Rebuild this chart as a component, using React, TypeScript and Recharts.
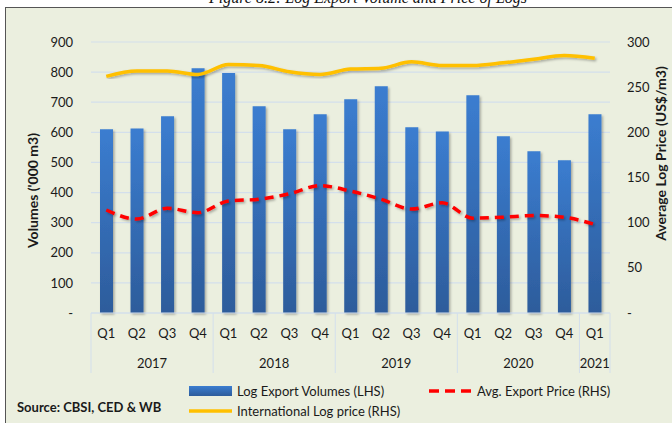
import React from 'react';
import { ComposedChart, Bar, Line, XAxis, YAxis, CartesianGrid } from 'recharts';

const quarters = ['Q1', 'Q2', 'Q3', 'Q4', 'Q1', 'Q2', 'Q3', 'Q4', 'Q1', 'Q2', 'Q3', 'Q4', 'Q1', 'Q2', 'Q3', 'Q4', 'Q1'];
const years = ['2017', '2017', '2017', '2017', '2018', '2018', '2018', '2018', '2019', '2019', '2019', '2019', '2020', '2020', '2020', '2020', '2021'];
const volumes = [610, 613, 653, 813, 797, 687, 610, 660, 710, 753, 617, 603, 723, 587, 537, 507, 660];
const avgExportPrice = [114, 104, 116, 111, 124, 126, 132, 141, 135, 126, 115, 122, 105, 106, 108, 106, 98];
const intlLogPrice = [262, 268, 268, 264, 275, 274, 267, 264, 270, 271, 278, 274, 274, 277, 281, 285, 282];
const leftTicks = [0, 100, 200, 300, 400, 500, 600, 700, 800, 900];
const rightTicks = [0, 50, 100, 150, 200, 250, 300];

const data = quarters.map((q, i) => ({
  q,
  year: years[i],
  volume: volumes[i],
  avg: avgExportPrice[i],
  intl: intlLogPrice[i],
}));

const W = 672;
const H = 423;
const LEFT_W = 91;
const RIGHT_W = 62;
const PLOT_W = W - LEFT_W - RIGHT_W;
const BW = PLOT_W / data.length;
const FONT = 'Lato, "Noto Sans", sans-serif';
const TXT = '#1a1a1a';
const GRID = '#d3dfec';

const fmt = (v: number) => (v === 0 ? '-' : String(v));

const QuarterTick = (props: any) => {
  const { x, y, payload } = props;
  return (
    <text x={x} y={y + 20} textAnchor="middle" dominantBaseline="central" fontFamily={FONT} fontSize={13} fill={TXT}>
      {payload.value}
    </text>
  );
};

const YearTick = (props: any) => {
  const { x, y, index } = props;
  const isStart = index === 0 || years[index] !== years[index - 1];
  const isLast = index === years.length - 1;
  const els: any[] = [];
  if (isStart) {
    let n = 0;
    while (index + n < years.length && years[index + n] === years[index]) n++;
    els.push(
      <line key="s" x1={x - BW / 2} x2={x - BW / 2} y1={y - 30} y2={y + 30} stroke={GRID} strokeWidth={1} />
    );
    els.push(
      <text key="t" x={x + ((n - 1) / 2) * BW} y={y + 20} textAnchor="middle" dominantBaseline="central" fontFamily={FONT} fontSize={13} fill={TXT}>
        {years[index]}
      </text>
    );
  }
  if (isLast) {
    els.push(<line key="e" x1={x + BW / 2} x2={x + BW / 2} y1={y - 30} y2={y + 30} stroke={GRID} strokeWidth={1} />);
  }
  return <g>{els}</g>;
};

const LeftTitle = (props: any) => {
  const vb = props.viewBox;
  const cx = vb.x + 32;
  const cy = vb.y + vb.height / 2 + 13;
  return (
    <text x={cx} y={cy} transform={`rotate(-90 ${cx} ${cy})`} textAnchor="middle" dominantBaseline="central" fontFamily={FONT} fontWeight="bold" fontSize={14} fill={TXT}>
      Volumes ('000 m3)
    </text>
  );
};

const RightTitle = (props: any) => {
  const vb = props.viewBox;
  const cx = vb.x + 50;
  const cy = vb.y + vb.height / 2 - 24;
  return (
    <text x={cx} y={cy} transform={`rotate(-90 ${cx} ${cy})`} textAnchor="middle" dominantBaseline="central" fontFamily={FONT} fontWeight="bold" fontSize={14} fill={TXT}>
      Average Log Price (US$/m3)
    </text>
  );
};

export default function App() {
  return (
    <div style={{ position: 'absolute', left: 0, top: 0, width: W, height: H, overflow: 'hidden', background: '#ffffff' }}>
      <div
        style={{
          position: 'absolute',
          left: 5,
          top: 7,
          width: W,
          height: H,
          background: '#ebefdf',
          borderTop: '1px solid #555',
          borderLeft: '1px solid #555',
        }}
      />
      <svg style={{ position: 'absolute', left: 0, top: 0 }} width={W} height={12}>
        <text x={368} y={3} textAnchor="middle" fontFamily='"Liberation Serif", serif' fontStyle="italic" fontSize={16} fill="#111">
          Figure 8.2: Log Export Volume and Price of Logs
        </text>
      </svg>
      <div style={{ position: 'absolute', left: 0, top: 0 }}>
        <ComposedChart width={W} height={H} data={data} margin={{ top: 42, right: 0, bottom: 50, left: 0 }}>
          <defs>
            <linearGradient id="barGrad" x1="0" y1="0" x2="0" y2="1">
              <stop offset="0%" stopColor="#3b7dd0" />
              <stop offset="100%" stopColor="#2d5c9b" />
            </linearGradient>
            <filter id="shadow" x="-30%" y="-10%" width="160%" height="120%">
              <feDropShadow dx="1.5" dy="1.5" stdDeviation="1.2" floodColor="#000" floodOpacity="0.3" />
            </filter>
          </defs>
          <CartesianGrid yAxisId="left" xAxisId="q" vertical={false} stroke={GRID} strokeWidth={1.2} />
          <XAxis
            xAxisId="q"
            dataKey="q"
            height={30}
            interval={0}
            tickSize={0}
            tickMargin={0}
            tickLine={false}
            axisLine={{ stroke: GRID, strokeWidth: 1.2 }}
            tick={<QuarterTick />}
          />
          <XAxis
            xAxisId="year"
            dataKey="q"
            height={30}
            interval={0}
            tickSize={0}
            tickMargin={0}
            tickLine={false}
            axisLine={false}
            tick={<YearTick />}
          />
          <YAxis
            yAxisId="left"
            width={LEFT_W}
            domain={[0, 900]}
            ticks={leftTicks}
            tickFormatter={fmt}
            tickSize={0}
            tickMargin={18}
            tickLine={false}
            axisLine={false}
            tick={{ fontFamily: FONT, fontSize: 13, fill: TXT }}
            label={<LeftTitle />}
          />
          <YAxis
            yAxisId="right"
            orientation="right"
            width={RIGHT_W}
            domain={[0, 300]}
            ticks={rightTicks}
            tickFormatter={fmt}
            tickSize={0}
            tickMargin={17}
            tickLine={false}
            axisLine={false}
            tick={{ fontFamily: FONT, fontSize: 13, fill: TXT, textAnchor: 'start' }}
            label={<RightTitle />}
          />
          <Bar
            xAxisId="q"
            yAxisId="left"
            dataKey="volume"
            barSize={13}
            fill="url(#barGrad)"
            filter="url(#shadow)"
            isAnimationActive={false}
          />
          <Line
            xAxisId="q"
            yAxisId="right"
            dataKey="intl"
            type="monotone"
            stroke="#ffc000"
            strokeWidth={3.5}
            dot={false}
            filter="url(#shadow)"
            isAnimationActive={false}
          />
          <Line
            xAxisId="q"
            yAxisId="right"
            dataKey="avg"
            type="monotone"
            stroke="#ff0000"
            strokeWidth={3.5}
            strokeDasharray="9 6"
            dot={false}
            filter="url(#shadow)"
            isAnimationActive={false}
          />
        </ComposedChart>
      </div>
      <svg style={{ position: 'absolute', left: 0, top: 375 }} width={W} height={48}>
        <rect x={189} y={11} width={43} height={10} fill="url(#legGrad)" />
        <defs>
          <linearGradient id="legGrad" x1="0" y1="0" x2="0" y2="1">
            <stop offset="0%" stopColor="#3b7dd0" />
            <stop offset="100%" stopColor="#2d5c9b" />
          </linearGradient>
        </defs>
        <text x={237} y={16} dominantBaseline="central" fontFamily={FONT} fontSize={13} fill={TXT}>
          Log Export Volumes (LHS)
        </text>
        <line x1={429} x2={473} y1={16} y2={16} stroke="#ff0000" strokeWidth={3.5} strokeDasharray="10 6" />
        <text x={477} y={16} dominantBaseline="central" fontFamily={FONT} fontSize={13} fill={TXT}>
          Avg. Export Price (RHS)
        </text>
        <line x1={189} x2={232} y1={36} y2={36} stroke="#ffc000" strokeWidth={3.5} />
        <text x={237} y={36} dominantBaseline="central" fontFamily={FONT} fontSize={13} fill={TXT}>
          International Log price (RHS)
        </text>
        <text x={17} y={32} dominantBaseline="central" fontFamily={FONT} fontWeight="bold" fontSize={13} fill={TXT}>
          Source: CBSI, CED &amp; WB
        </text>
      </svg>
    </div>
  );
}
